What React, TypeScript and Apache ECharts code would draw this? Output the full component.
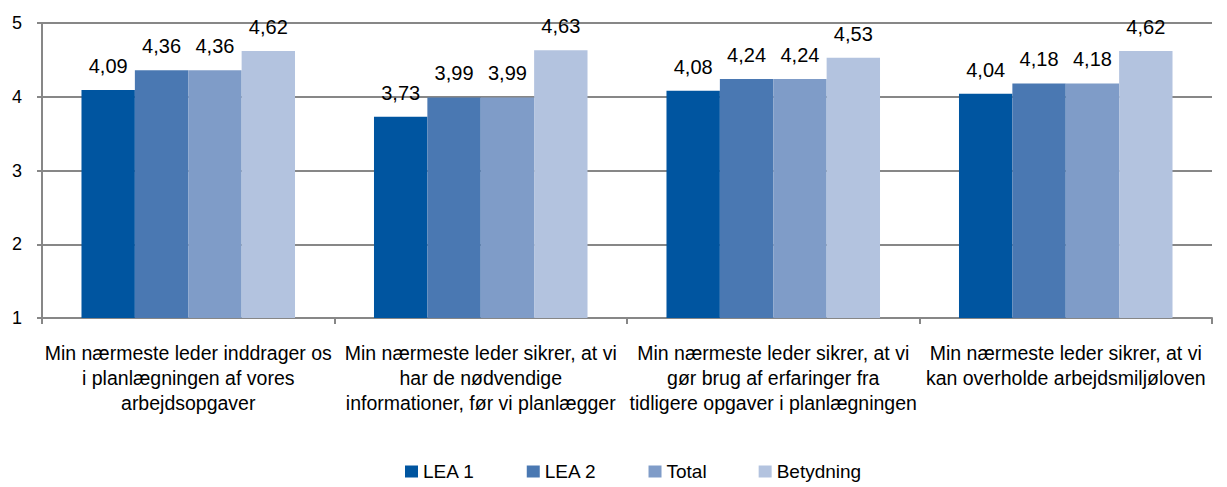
import React, { useEffect, useRef } from "react";
import * as echarts from "echarts";

const categories = [
  "Min nærmeste leder inddrager os\ni planlægningen af vores\narbejdsopgaver",
  "Min nærmeste leder sikrer, at vi\nhar de nødvendige\ninformationer, før vi planlægger",
  "Min nærmeste leder sikrer, at vi\ngør brug af erfaringer fra\ntidligere opgaver i planlægningen",
  "Min nærmeste leder sikrer, at vi\nkan overholde arbejdsmiljøloven",
];

const seriesNames = ["LEA 1", "LEA 2", "Total", "Betydning"];
const lea1 = [4.09, 3.73, 4.08, 4.04];
const lea2 = [4.36, 3.99, 4.24, 4.18];
const total = [4.36, 3.99, 4.24, 4.18];
const betydning = [4.62, 4.63, 4.53, 4.62];
const seriesValues = [lea1, lea2, total, betydning];
const colors = ["#0055A0", "#4A78B2", "#7F9CC8", "#B3C3DF"];

const FONT = "'Liberation Sans', Arial, sans-serif";
const GRAY = "#878787";

export default function App() {
  const ref = useRef<HTMLDivElement>(null);
  useEffect(() => {
    document.body.style.margin = "0";
    if (!ref.current) return;
    const chart = echarts.init(ref.current, null, { renderer: "svg" });
    chart.setOption({
      animation: false,
      backgroundColor: "#ffffff",
      textStyle: { fontFamily: FONT },
      grid: { left: 42, right: 15, top: 23, bottom: 169, containLabel: false },
      legend: {
        data: seriesNames,
        left: 405,
        top: 462,
        padding: 0,
        icon: "rect",
        itemWidth: 13,
        itemHeight: 12,
        itemGap: 52,
        textStyle: { fontSize: 19, color: "#000", fontFamily: FONT },
      },
      xAxis: {
        type: "category",
        data: categories,
        axisLine: { show: true, lineStyle: { color: GRAY, width: 2 } },
        axisTick: { show: true, length: 6, alignWithLabel: false, lineStyle: { color: GRAY, width: 2 } },
        axisLabel: {
          interval: 0,
          margin: 22,
          fontSize: 19.5,
          lineHeight: 25,
          color: "#000",
          fontFamily: FONT,
          align: "center",
        },
      },
      yAxis: {
        type: "value",
        min: 1,
        max: 5,
        interval: 1,
        startValue: 1,
        axisLine: { show: true, lineStyle: { color: GRAY, width: 2 } },
        axisTick: { show: true, length: 5, lineStyle: { color: GRAY, width: 2 } },
        splitLine: { show: true, lineStyle: { color: GRAY, width: 2 } },
        axisLabel: { margin: 20, fontSize: 18, color: "#000", fontFamily: FONT },
      },
      series: seriesNames.map((name, i) => ({
        name,
        type: "bar",
        data: seriesValues[i],
        barGap: "0%",
        barCategoryGap: "27%",
        itemStyle: { color: colors[i] },
        label: {
          show: true,
          position: "top",
          distance: 14,
          fontSize: 20,
          color: "#000",
          fontFamily: FONT,
          formatter: (p: any) => p.value.toFixed(2).replace(".", ","),
        },
      })),
    });
    return () => chart.dispose();
  }, []);
  return <div ref={ref} style={{ width: 1227, height: 487 }} />;
}
